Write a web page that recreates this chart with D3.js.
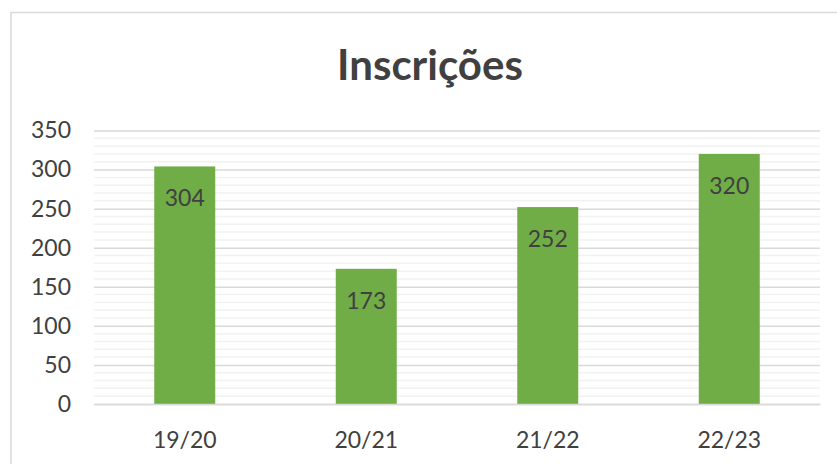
<!DOCTYPE html>
<html>
<head>
<meta charset="utf-8">
<script src="https://cdn.jsdelivr.net/npm/d3@7"></script>
<style>
  html, body { margin: 0; padding: 0; background: #fff; }
  svg { display: block; font-family: Lato, "Open Sans", sans-serif; }
</style>
</head>
<body>
<svg id="chart" width="837" height="464"></svg>
<script>
// Enrolments per school year
const categories = ["19/20", "20/21", "21/22", "22/23"];
const values = [304, 173, 252, 320];
const yTicks = [0, 50, 100, 150, 200, 250, 300, 350];
const chartTitle = "Inscrições";

const svg = d3.select("#chart");
const plot = { left: 94, right: 820, top: 130.5, bottom: 404 };
const labelFont = "23px";

// Chart frame
svg.append("rect")
  .attr("x", 11).attr("y", 12.5)
  .attr("width", 840).attr("height", 470)
  .attr("fill", "#fff")
  .attr("stroke", "#d9d9d9").attr("stroke-width", 1.5);

const x = d3.scaleBand()
  .domain(categories)
  .range([plot.left, plot.right])
  .paddingInner(0.664)
  .paddingOuter(0.332);

const y = d3.scaleLinear()
  .domain([0, 350])
  .range([plot.bottom, plot.top]);

// Minor gridlines every 10
const minor = d3.range(0, 351, 10).filter(v => v % 50 !== 0);
svg.append("g")
  .selectAll("line")
  .data(minor)
  .join("line")
  .attr("x1", plot.left).attr("x2", plot.right)
  .attr("y1", d => y(d)).attr("y2", d => y(d))
  .attr("stroke", "#f2f2f2").attr("stroke-width", 1.5);

// Major gridlines and axis labels
const yAxis = d3.axisLeft(y)
  .tickValues(yTicks)
  .tickSize(-(plot.right - plot.left))
  .tickPadding(23)
  .tickFormat(d3.format("d"));

const gy = svg.append("g")
  .attr("transform", `translate(${plot.left},0)`)
  .call(yAxis);
gy.select(".domain").remove();
gy.selectAll(".tick line").attr("stroke", "#d9d9d9").attr("stroke-width", 1.5);
gy.selectAll(".tick text")
  .attr("fill", "#404040")
  .style("font-size", labelFont)
  .style("font-family", "Lato, 'Open Sans', sans-serif");

// Bars
svg.append("g")
  .selectAll("rect")
  .data(values)
  .join("rect")
  .attr("x", (d, i) => x(categories[i]))
  .attr("y", d => y(d))
  .attr("width", x.bandwidth())
  .attr("height", d => y(0) - y(d))
  .attr("fill", "#70ad47");

// Value labels inside bar tops
svg.append("g")
  .selectAll("text")
  .data(values)
  .join("text")
  .attr("x", (d, i) => x(categories[i]) + x.bandwidth() / 2)
  .attr("y", d => y(d) + 40)
  .attr("text-anchor", "middle")
  .attr("fill", "#404040")
  .style("font-size", labelFont)
  .text(d => d);

// Category axis
const xAxis = d3.axisBottom(x).tickSize(0).tickPadding(28);
const gx = svg.append("g")
  .attr("transform", `translate(0,${plot.bottom})`)
  .call(xAxis);
gx.select(".domain").attr("stroke", "#d9d9d9").attr("stroke-width", 1.5);
gx.selectAll(".tick text")
  .attr("fill", "#404040")
  .style("font-size", labelFont)
  .style("font-family", "Lato, 'Open Sans', sans-serif");

// Title
svg.append("text")
  .attr("x", 430).attr("y", 80)
  .attr("text-anchor", "middle")
  .attr("fill", "#404040")
  .style("font-size", "42px")
  .style("font-weight", "bold")
  .text(chartTitle);
</script>
</body>
</html>
